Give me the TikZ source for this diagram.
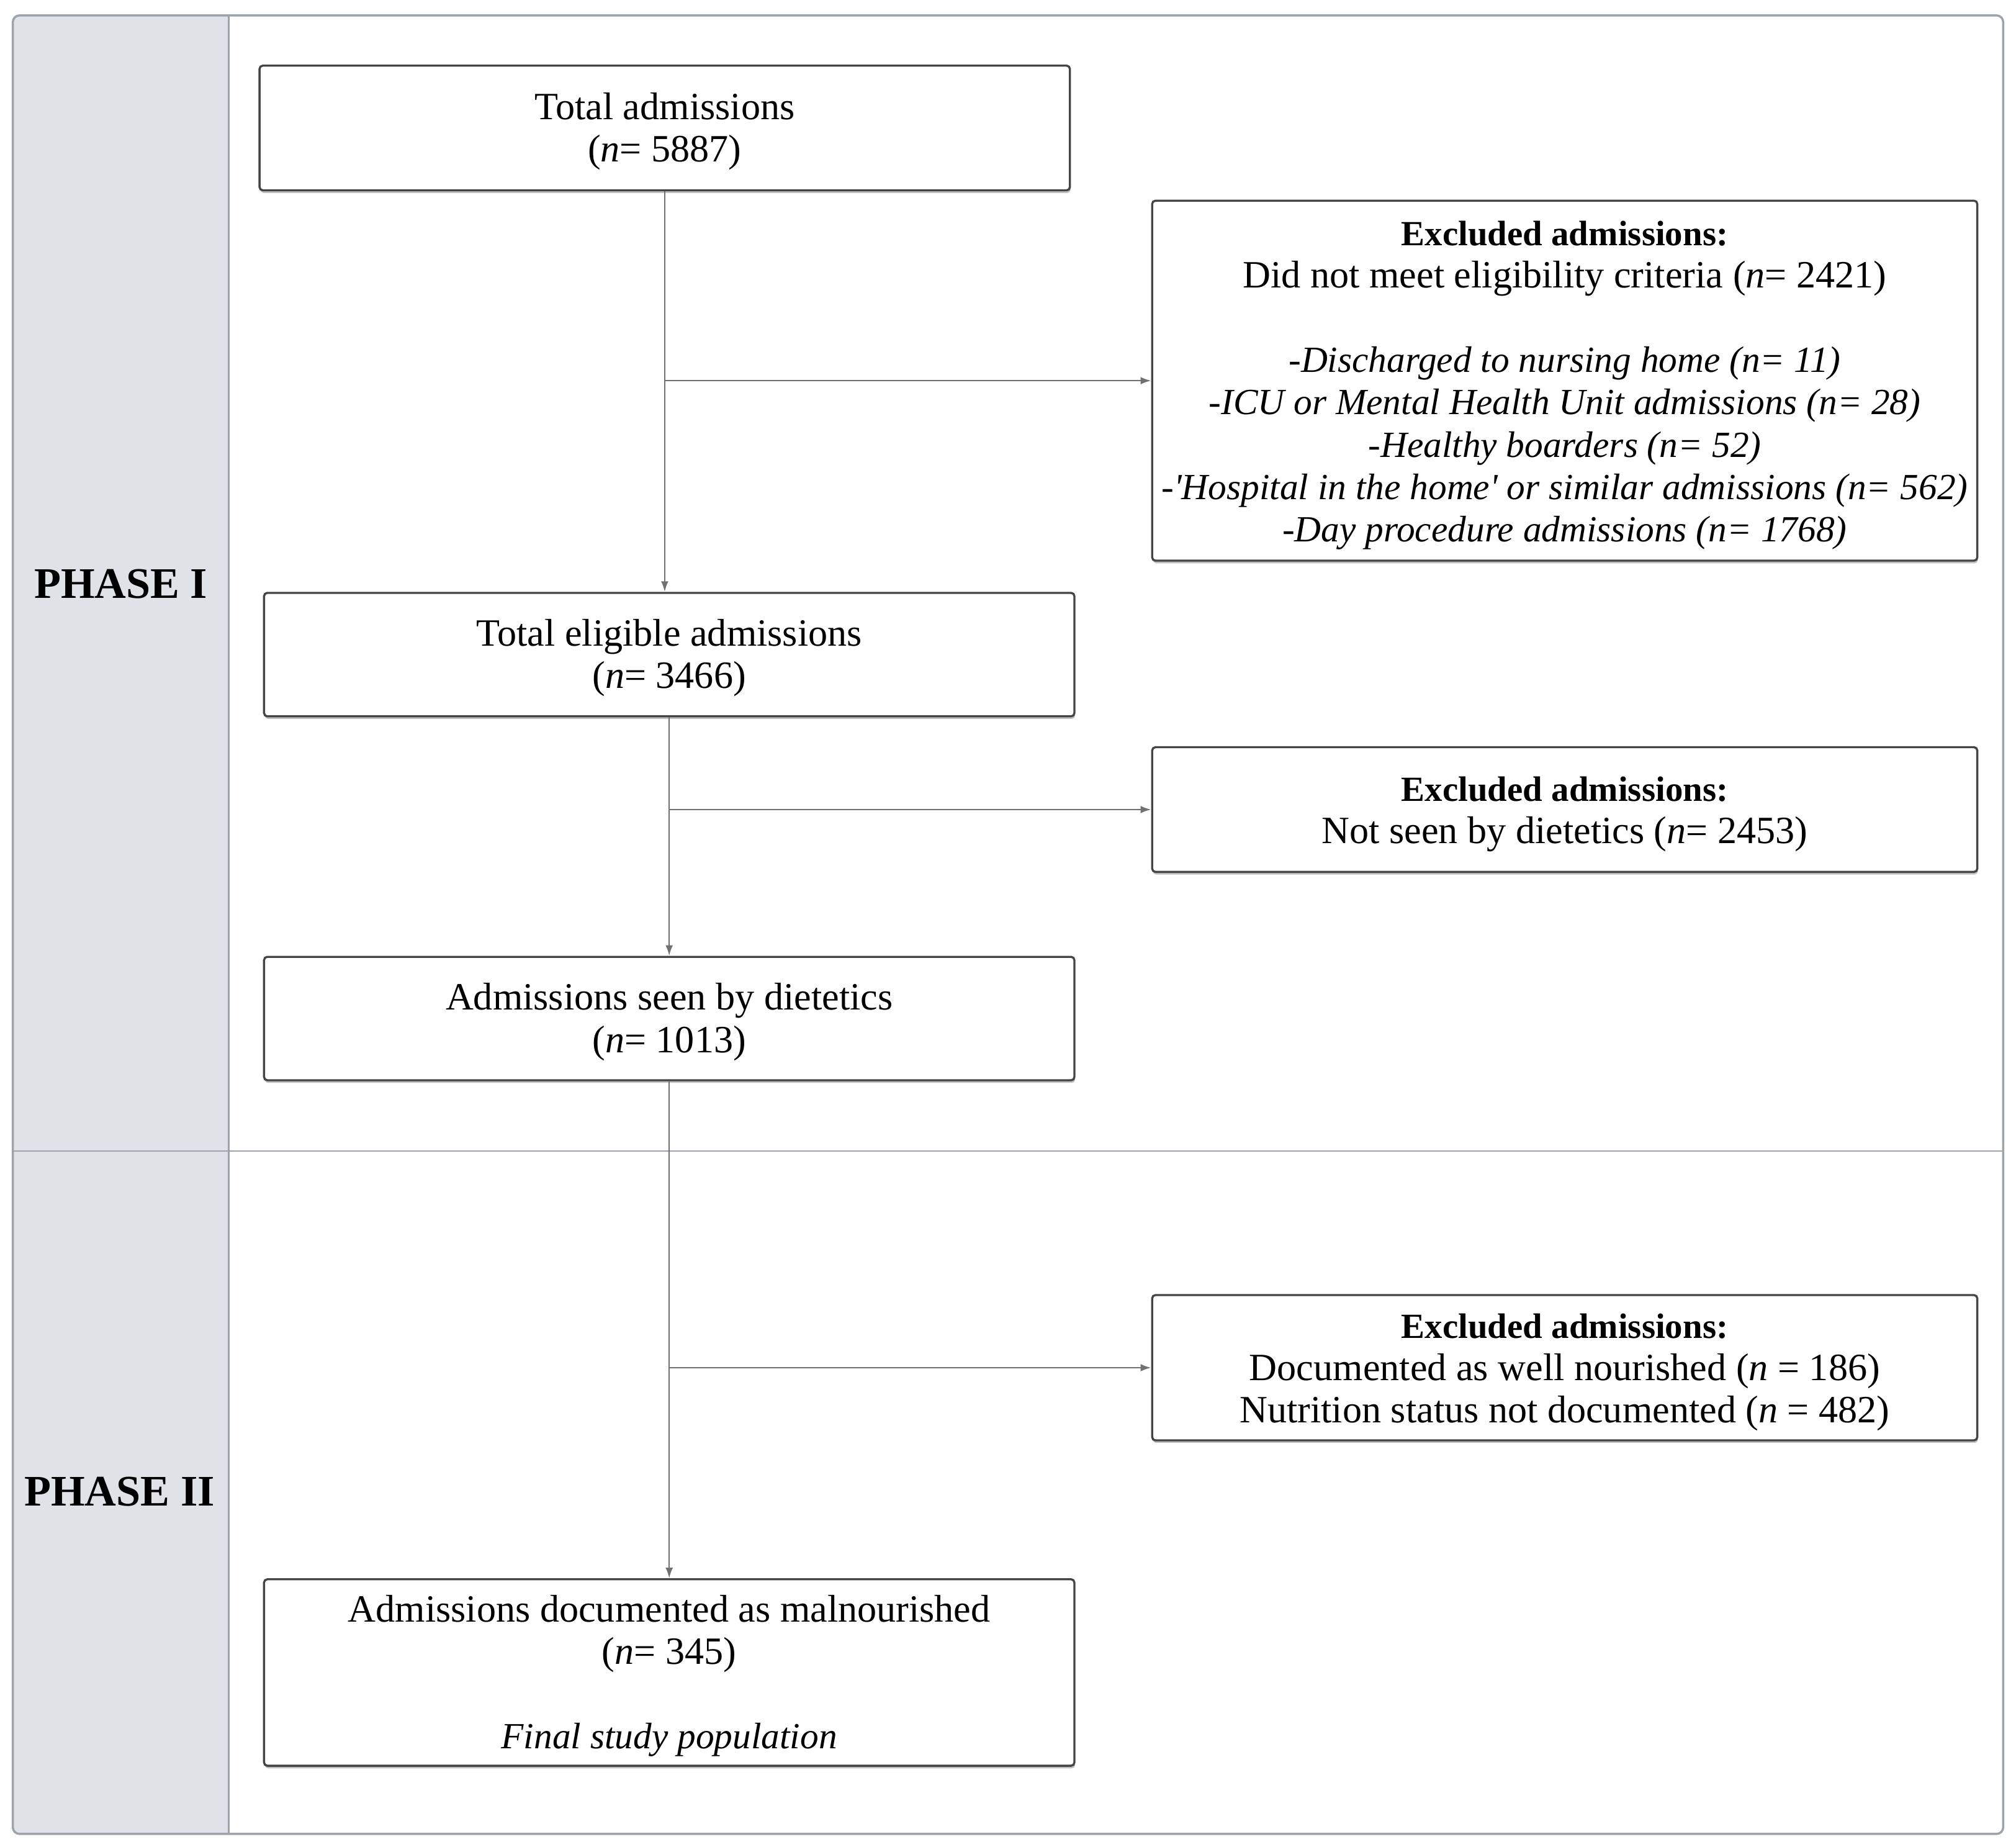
\documentclass[tikz,border=0pt]{standalone}
\usepackage{fontspec}
\setmainfont{Liberation Serif}
\usetikzlibrary{arrows.meta,shadows}
\definecolor{boxline}{HTML}{444444}
\definecolor{conn}{HTML}{707070}
\definecolor{framec}{HTML}{9DA3AB}
\definecolor{colfill}{HTML}{DFE2E7}
\newcommand{\hdr}[1]{{\bfseries\fontsize{16.2}{19.4}\selectfont #1}}
\newcommand{\itl}[1]{{\itshape\fontsize{16.9}{19.4}\selectfont #1}}
\newcommand{\fl}{\rule{0pt}{15.4pt}}
\begin{document}
\begin{tikzpicture}[x=0.020714cm,y=-0.020714cm,
  box/.style={draw=boxline, line width=0.95pt, rounded corners=1.5pt, fill=white,
    align=center, inner sep=0pt, font=\fontsize{17.7}{19.4}\selectfont,
    drop shadow={shadow xshift=0.3pt, shadow yshift=-1.2pt, fill=black!25, opacity=1}},
  lbox/.style={box, minimum width=13.06cm},
  rbox/.style={box, minimum width=13.298cm},
  conn/.style={draw=conn, line width=0.7pt},
  arr/.style={conn, -{Latex[length=4.8pt,width=3.4pt]}},
  phase/.style={font=\bfseries\fontsize{20}{24}\selectfont, inner sep=0pt}]
\useasboundingbox (0,0) rectangle (1568,1436);
% frame and phase column
\fill[colfill, rounded corners=3pt] (10,12) rectangle (178,1426);
\fill[colfill] (120,12) rectangle (178,1426);
\draw[framec, line width=0.8pt] (178,12) -- (178,1426);
\draw[framec, line width=0.8pt] (10,895) -- (1558,895);
\draw[framec, line width=1pt, rounded corners=3pt] (10,12) rectangle (1558,1426);
\node[phase] (p1) at (94,454) {PHASE I};
\node[phase] (p2) at (93,1160) {PHASE II};
% boxes
\node[lbox, minimum height=2.009cm] (b1) at (517,99.5)
  {\fl Total admissions\\(\textit{n}= 5887)};
\node[rbox, minimum height=5.8cm] (e1) at (1217,296)
  {\fl\hdr{Excluded admissions:}\\Did not meet eligibility criteria (\textit{n}= 2421)\\[19.4pt]
   \itl{-Discharged to nursing home (n= 11)}\\
   \itl{-ICU or Mental Health Unit admissions (n= 28)}\\
   \itl{-Healthy boarders (n= 52)}\\
   \itl{-\textquotesingle Hospital in the home\textquotesingle{} or similar admissions (n= 562)}\\
   \itl{-Day procedure admissions (n= 1768)}};
\node[lbox, minimum height=1.989cm] (b2) at (520.5,509)
  {\fl Total eligible admissions\\(\textit{n}= 3466)};
\node[rbox, minimum height=2.009cm] (e2) at (1217,629.5)
  {\fl\hdr{Excluded admissions:}\\Not seen by dietetics (\textit{n}= 2453)};
\node[lbox, minimum height=1.989cm] (b3) at (520.5,792)
  {\fl Admissions seen by dietetics\\(\textit{n}= 1013)};
\node[rbox, minimum height=2.341cm] (e3) at (1217,1063.5)
  {\fl\hdr{Excluded admissions:}\\Documented as well nourished (\textit{n} = 186)\\Nutrition status not documented (\textit{n} = 482)};
\node[lbox, minimum height=3.004cm] (b4) at (520.5,1300.5)
  {\fl Admissions documented as malnourished\\(\textit{n}= 345)\\[19.4pt]\itl{Final study population}};
% connectors
\draw[arr] (b1.south) -- (b1.south |- b2.north);
\draw[arr] (b1.south |- e1.west) -- (e1.west);
\draw[arr] (b2.south) -- (b2.south |- b3.north);
\draw[arr] (b2.south |- e2.west) -- (e2.west);
\draw[arr] (b3.south) -- (b3.south |- b4.north);
\draw[arr] (b3.south |- e3.west) -- (e3.west);
\end{tikzpicture}
\end{document}
